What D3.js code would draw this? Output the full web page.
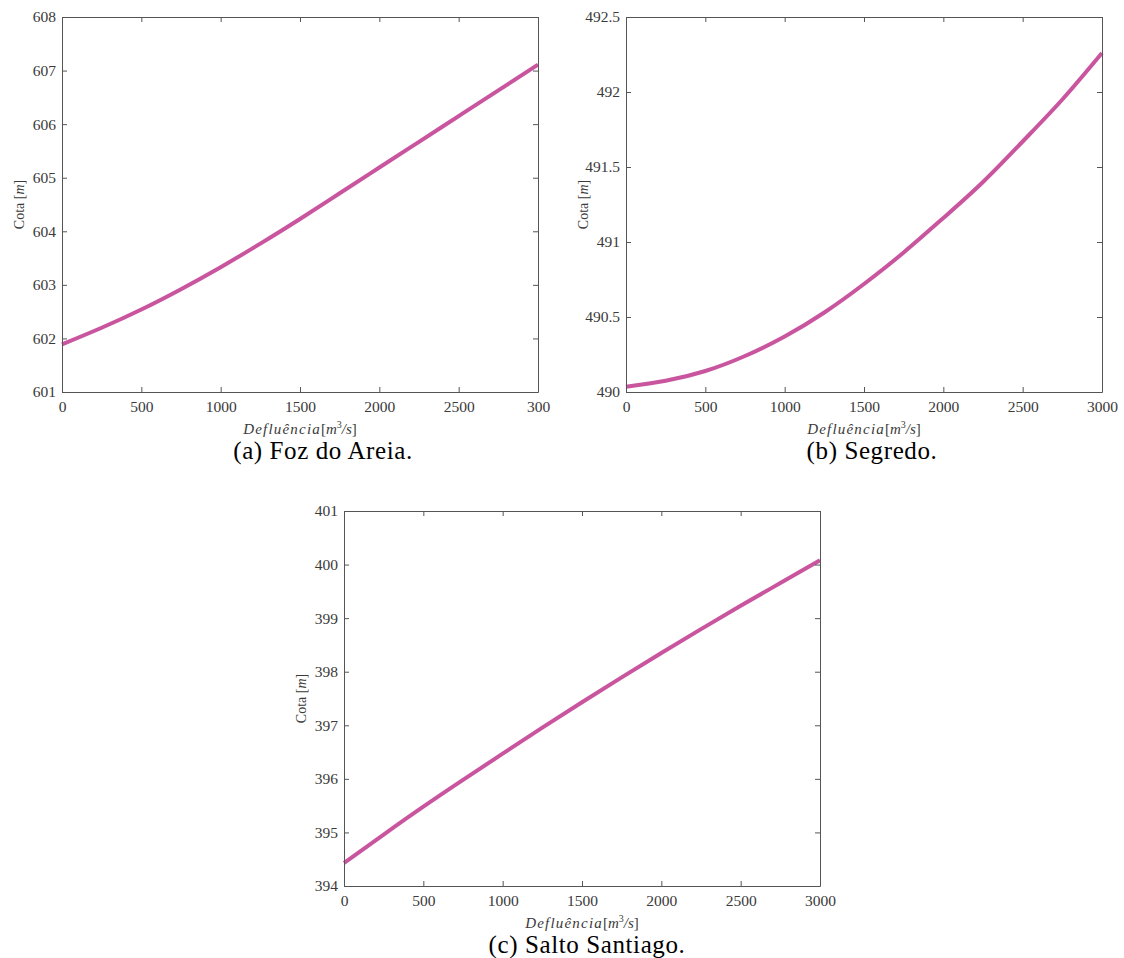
<!DOCTYPE html>
<html>
<head>
<meta charset="utf-8">
<script src="https://cdn.jsdelivr.net/npm/d3@7"></script>
<style>
  html, body { margin: 0; padding: 0; background: #fff; }
  svg { display: block; }
  text { font-family: "Liberation Serif", "DejaVu Serif", serif; }
</style>
</head>
<body>
<svg id="chart" width="1124" height="958"></svg>
<script>
// ---- data ----
const defluencia = [0, 250, 500, 750, 1000, 1250, 1500, 1750, 2000, 2250, 2500, 2750, 3000];
const cotaFozDoAreia = [601.89, 602.20, 602.54, 602.92, 603.33, 603.77, 604.23, 604.71, 605.19, 605.67, 606.15, 606.63, 607.11];
const cotaSegredo = [490.035, 490.075, 490.14, 490.24, 490.37, 490.53, 490.72, 490.93, 491.16, 491.40, 491.67, 491.95, 492.26];
const cotaSaltoSantiago = [394.43, 394.96, 395.48, 395.98, 396.47, 396.955, 397.43, 397.895, 398.35, 398.795, 399.23, 399.655, 400.08];

const xTicks = [0, 500, 1000, 1500, 2000, 2500, 3000];
const xTickLabelsA = ["0", "500", "1000", "1500", "2000", "2500", "300"];
const xTickLabelsBC = ["0", "500", "1000", "1500", "2000", "2500", "3000"];
const yTicksA = [601, 602, 603, 604, 605, 606, 607, 608];
const yTicksB = [490, 490.5, 491, 491.5, 492, 492.5];
const yTicksC = [394, 395, 396, 397, 398, 399, 400, 401];
const captions = ["(a) Foz do Areia.", "(b) Segredo.", "(c) Salto Santiago."];

const panels = [
  { box: {l: 62, r: 538, t: 17, b: 392}, yDomain: [601, 608], yTicks: yTicksA, xLabels: xTickLabelsA, values: cotaFozDoAreia, caption: captions[0], capX: 323 },
  { box: {l: 626, r: 1102, t: 17, b: 392}, yDomain: [490, 492.5], yTicks: yTicksB, xLabels: xTickLabelsBC, values: cotaSegredo, caption: captions[1], capX: 872 },
  { box: {l: 344, r: 820, t: 511, b: 886}, yDomain: [394, 401], yTicks: yTicksC, xLabels: xTickLabelsBC, values: cotaSaltoSantiago, caption: captions[2], capX: 587 }
];

const svg = d3.select("#chart");
const axisColor = "#555";
const labelColor = "#3a3a3a";
const lineColor = "#c9559f";

panels.forEach(p => {
  const {l, r, t, b} = p.box;
  const x = d3.scaleLinear().domain([0, 3000]).range([l, r]);
  const y = d3.scaleLinear().domain(p.yDomain).range([b, t]);
  const g = svg.append("g");

  const styleAxis = sel => {
    sel.selectAll("path.domain").attr("stroke", axisColor).attr("stroke-width", 1);
    sel.selectAll(".tick line").attr("stroke", axisColor).attr("stroke-width", 1);
    sel.selectAll(".tick text").attr("fill", labelColor)
      .style("font-family", '"Liberation Serif", "DejaVu Serif", serif')
      .style("font-size", "15.5px");
  };

  const line = d3.line().x((d, i) => x(defluencia[i])).y(d => y(d)).curve(d3.curveNatural);
  g.append("path").datum(p.values)
    .attr("d", line)
    .attr("fill", "none")
    .attr("stroke", lineColor)
    .attr("stroke-width", 4)
    .attr("stroke-linecap", "butt");

  g.append("g").attr("transform", `translate(0,${b})`)
    .call(d3.axisBottom(x).tickValues(xTicks).tickSizeInner(-5).tickSizeOuter(0).tickPadding(9)
      .tickFormat((d, i) => p.xLabels[i]))
    .call(styleAxis);
  g.append("g").attr("transform", `translate(0,${t})`)
    .call(d3.axisTop(x).tickValues(xTicks).tickSizeInner(-5).tickSizeOuter(0).tickFormat(""))
    .call(styleAxis);
  g.append("g").attr("transform", `translate(${l},0)`)
    .call(d3.axisLeft(y).tickValues(p.yTicks).tickSizeInner(-5).tickSizeOuter(0).tickPadding(6)
      .tickFormat(d => d3.format("")(d)))
    .call(styleAxis);
  g.append("g").attr("transform", `translate(${r},0)`)
    .call(d3.axisRight(y).tickValues(p.yTicks).tickSizeInner(-5).tickSizeOuter(0).tickFormat(""))
    .call(styleAxis);

  const yl = g.append("text")
    .attr("transform", `translate(${l - 38},${(t + b) / 2}) rotate(-90)`)
    .attr("text-anchor", "middle")
    .attr("fill", labelColor)
    .style("font-size", "14px");
  yl.append("tspan").text("Cota [");
  yl.append("tspan").style("font-style", "italic").text("m");
  yl.append("tspan").text("]");

  const xl = g.append("text")
    .attr("x", (l + r) / 2)
    .attr("y", b + 42)
    .attr("text-anchor", "middle")
    .attr("fill", labelColor)
    .style("font-size", "15px");
  xl.append("tspan").style("font-style", "italic").attr("letter-spacing", "1.2px").text("Defluência");
  xl.append("tspan").text("[");
  xl.append("tspan").style("font-style", "italic").text("m");
  xl.append("tspan").attr("dy", -6).style("font-size", "10px").text("3");
  xl.append("tspan").attr("dy", 6).style("font-style", "italic").text("/s");
  xl.append("tspan").text("]");

  g.append("text")
    .attr("x", p.capX)
    .attr("y", b + 67)
    .attr("text-anchor", "middle")
    .attr("fill", "#000")
    .attr("letter-spacing", "0.6px")
    .style("font-size", "25px")
    .text(p.caption);
});
</script>
</body>
</html>
